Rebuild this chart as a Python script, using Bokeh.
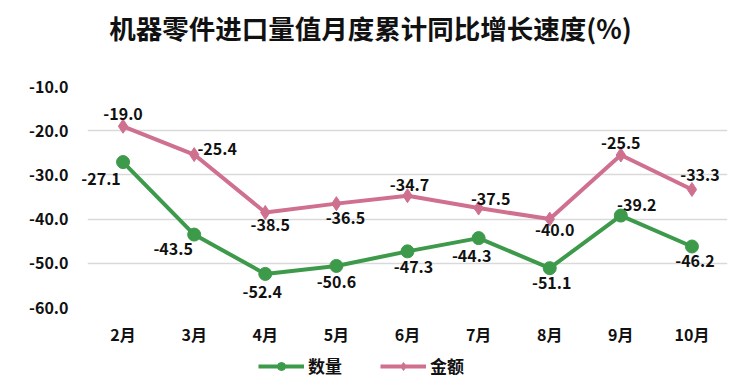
from bokeh.plotting import figure
from bokeh.layouts import column
from bokeh.models import (FactorRange, Range1d, FixedTicker, Legend, LegendItem,
                          ColumnDataSource, NumeralTickFormatter)
from bokeh.core.properties import value
from bokeh.embed import file_html
from bokeh.resources import INLINE

# ---- data ----
months = ["2月", "3月", "4月", "5月", "6月", "7月", "8月", "9月", "10月"]
qty = [-27.1, -43.5, -52.4, -50.6, -47.3, -44.3, -51.1, -39.2, -46.2]
amt = [-19.0, -25.4, -38.5, -36.5, -34.7, -37.5, -40.0, -25.5, -33.3]
y_ticks = [-60, -50, -40, -30, -20, -10]
title_text = "机器零件进口量值月度累计同比增长速度(%)"
series_names = ["数量", "金额"]

# data label placement (pixel offsets, screen: +y is down)
qty_dx = [-22, -21, -3, 0, 6, -7, 2, 16, 3]
qty_dy = [17, 14, 18, 16, 16, 18, 15, -11, 14]
amt_dx = [0, 23, 5, 9, 2, 12, 5, 0, 8]
amt_dy = [-12, -6, 13, 14, -11, -9, 11, -12, -14]

GREEN = "#3E9A4B"
PINK = "#D0708F"
FONT = "Noto Sans CJK SC"
TXT = "#111111"

W = 734
L_BORDER, R_BORDER = 87, 7
H_TOP, H_MAIN, H_LEG = 50, 300, 30

# ---- title strip (x in page pixels; frames are aligned with the main chart) ----
t = figure(width=W, height=H_TOP, x_range=Range1d(L_BORDER, W - R_BORDER),
           y_range=Range1d(0, H_TOP), x_axis_type=None, y_axis_type=None, title=None,
           output_backend="svg", toolbar_location=None,
           min_border_left=L_BORDER, min_border_right=R_BORDER,
           min_border_top=0, min_border_bottom=0)
t.grid.visible = False
t.outline_line_color = None
t.text(x=[370], y=[23], text=[title_text], text_font=value(FONT), text_font_size="26.5px",
       text_font_style="bold", text_color=TXT, text_align="center", text_baseline="middle",
       level="overlay")

# ---- main chart ----
p = figure(width=W, height=H_MAIN, x_range=FactorRange(*months, range_padding=0),
           y_range=Range1d(-60, -10), output_backend="svg", toolbar_location=None, title=None,
           min_border_left=L_BORDER, min_border_right=R_BORDER,
           min_border_top=36, min_border_bottom=43)
p.outline_line_color = None
p.background_fill_color = "white"
p.border_fill_color = "white"

p.yaxis.ticker = FixedTicker(ticks=y_ticks)
p.yaxis.formatter = NumeralTickFormatter(format="0.0")
for ax in (p.xaxis[0], p.yaxis[0]):
    ax.axis_line_color = None
    ax.major_tick_line_color = None
    ax.minor_tick_line_color = None
    ax.major_tick_in = 0
    ax.major_tick_out = 0
    ax.major_label_text_font = FONT
    ax.major_label_text_font_style = "bold"
    ax.major_label_text_font_size = "16px"
    ax.major_label_text_color = TXT
p.yaxis.major_label_standoff = 19
p.xaxis.major_label_standoff = 14

p.xgrid.grid_line_color = None
p.ygrid.grid_line_color = "#D9D9D9"
p.ygrid.grid_line_width = 1.5

src = ColumnDataSource(dict(
    m=months, qty=qty, amt=amt,
    qty_t=[f"{v:.1f}" for v in qty], amt_t=[f"{v:.1f}" for v in amt],
    qdx=qty_dx, qdy=qty_dy, adx=amt_dx, ady=amt_dy))

p.line("m", "amt", source=src, line_color=PINK, line_width=4)
p.scatter("m", "amt", source=src, marker="diamond", size=14, fill_color=PINK, line_color=PINK)
p.line("m", "qty", source=src, line_color=GREEN, line_width=4)
p.scatter("m", "qty", source=src, marker="circle", size=13, fill_color=GREEN, line_color=GREEN)

for col, dx, dy in (("qty_t", "qdx", "qdy"), ("amt_t", "adx", "ady")):
    p.text("m", col.split("_")[0], text=col, source=src, x_offset=dx, y_offset=dy,
           text_font=value(FONT), text_font_style="bold", text_font_size="16px",
           text_color=TXT, text_align="center", text_baseline="middle", level="overlay")

# ---- legend strip ----
q = figure(width=W, height=H_LEG, x_range=Range1d(0, 1), y_range=Range1d(0, 1),
           x_axis_type=None, y_axis_type=None, title=None,
           output_backend="svg", toolbar_location=None,
           min_border_left=L_BORDER, min_border_right=R_BORDER,
           min_border_top=0, min_border_bottom=0)
q.grid.visible = False
q.outline_line_color = None
off = dict(x=[5, 6], y=[5, 6])  # outside the visible range; only used as legend keys
lq = q.line("x", "y", source=ColumnDataSource(off), line_color=GREEN, line_width=4)
sq = q.scatter("x", "y", source=ColumnDataSource(off), marker="circle", size=13,
               fill_color=GREEN, line_color=GREEN)
la = q.line("x", "y", source=ColumnDataSource(off), line_color=PINK, line_width=4)
sa = q.scatter("x", "y", source=ColumnDataSource(off), marker="diamond", size=14,
               fill_color=PINK, line_color=PINK)
legend = Legend(items=[LegendItem(label=series_names[0], renderers=[lq, sq]),
                       LegendItem(label=series_names[1], renderers=[la, sa])],
                location=(258 - L_BORDER, 2), orientation="horizontal",
                glyph_width=46, glyph_height=20, label_standoff=4, spacing=38,
                padding=0, margin=0, border_line_color=None, background_fill_alpha=0,
                label_text_font=FONT, label_text_font_size="17px",
                label_text_font_style="bold", label_text_color=TXT)
q.add_layout(legend, "center")

layout = column(t, p, q, spacing=0)
open("out.html", "w").write(file_html(layout, INLINE))
